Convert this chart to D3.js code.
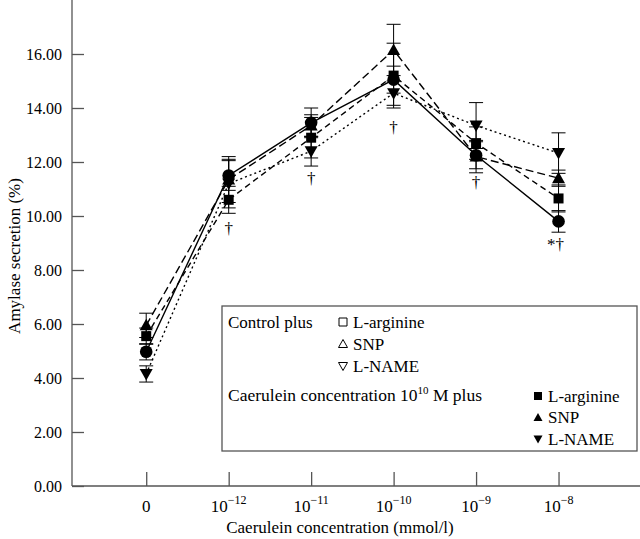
<!DOCTYPE html>
<html><head><meta charset="utf-8">
<script src="https://cdn.jsdelivr.net/npm/d3@7"></script>
<style>body{margin:0;background:#fff}svg{display:block}</style>
</head><body>
<svg id="c" width="640" height="539" font-family="'Liberation Serif', 'Times New Roman', 'DejaVu Serif', serif"></svg>
<script>
// ---- data ----
const categories = ["0", "10^-12", "10^-11", "10^-10", "10^-9", "10^-8"];
const tickExps = [null, "\u221212", "\u221211", "\u221210", "\u22129", "\u22128"];
const yTicks = [0, 2, 4, 6, 8, 10, 12, 14, 16];
const caeruleinValues = [4.97, 11.5, 13.45, 15.05, 12.25, 9.8];
const caeruleinErr    = [0.3, 0.55, 0.55, 0.5, 0.5, 0.4];
const lArginineValues = [5.55, 10.6, 12.9, 15.2, 12.7, 10.65];
const lArginineErr    = [0.3, 0.5, 0.75, 1.2, 0.6, 0.5];
const snpValues       = [5.95, 11.35, 13.35, 16.15, 12.2, 11.4];
const snpErr          = [0.45, 0.85, 0.4, 0.95, 0.6, 0.3];
const lNameValues     = [4.15, 11.2, 12.4, 14.55, 13.35, 12.33];
const lNameErr        = [0.3, 0.9, 0.55, 0.45, 0.85, 0.75];
const sigMarks = ["", "\u2020", "\u2020", "\u2020", "\u2020", "*\u2020"];
const sigLevels = [null, 9.55, 11.4, 13.3, 11.25, 8.95];

const series = [
  {name:"Caerulein", values:caeruleinValues, err:caeruleinErr, sym:"circle", dash:null},
  {name:"L-arginine", values:lArginineValues, err:lArginineErr, sym:"square", dash:"6,4"},
  {name:"SNP", values:snpValues, err:snpErr, sym:"up", dash:"8,4"},
  {name:"L-NAME", values:lNameValues, err:lNameErr, sym:"down", dash:"2,3"}
];

const svg = d3.select("#c");
const x = d3.scaleLinear().domain([-0.9, 6]).range([72, 641]);
const y = d3.scaleLinear().domain([0, 18]).range([486, 0]);

// axes
const yAxis = svg.append("g").attr("transform","translate(72,0)")
  .call(d3.axisRight(y).tickValues(yTicks).tickSize(12).tickFormat(""));
yAxis.attr("font-family",null);
yAxis.select(".domain").attr("d","M0,486V0");
yAxis.selectAll("line,path").attr("stroke","#555").attr("stroke-width",1.3);
svg.append("g").selectAll("text").data(yTicks).join("text")
  .attr("x",62).attr("y",d=>y(d)).attr("dy","0.35em").attr("text-anchor","end")
  .attr("font-size",16).attr("fill","#000").text(d=>d3.format(".2f")(d));

const xAxis = svg.append("g").attr("transform","translate(0,486)")
  .call(d3.axisTop(x).tickValues([0,1,2,3,4,5,6]).tickSize(14).tickFormat(""));
xAxis.attr("font-family",null);
xAxis.select(".domain").attr("d","M72,0H640");
xAxis.selectAll("line,path").attr("stroke","#555").attr("stroke-width",1.3);
const xl = svg.append("g").selectAll("text").data(categories).join("text")
  .attr("x",(d,i)=>x(i)).attr("y",512).attr("text-anchor","middle").attr("font-size",17).attr("fill","#000");
xl.each(function(d,i){
  const t = d3.select(this);
  if (tickExps[i]===null) { t.text("0"); return; }
  t.append("tspan").text("10");
  t.append("tspan").attr("dy",-8).attr("font-size",12).text(tickExps[i]);
});

svg.append("text").attr("x",340).attr("y",533).attr("text-anchor","middle").attr("font-size",17)
  .attr("fill","#000").text("Caerulein concentration (mmol/l)");
svg.append("text").attr("transform","translate(20,256) rotate(-90)").attr("text-anchor","middle")
  .attr("font-size",17).attr("fill","#000").text("Amylase secretion (%)");

// lines
const line = d3.line().x((d,i)=>x(i)).y(d=>y(d));
svg.append("g").selectAll("path").data(series).join("path")
  .attr("d",s=>line(s.values)).attr("fill","none").attr("stroke","#000").attr("stroke-width",1.4)
  .attr("stroke-dasharray",s=>s.dash);

// error bars
const eg = svg.append("g").attr("stroke","#000").attr("stroke-width",1);
series.forEach(s=>{
  s.values.forEach((v,i)=>{
    const e = s.err[i], cx = x(i);
    eg.append("line").attr("x1",cx).attr("x2",cx).attr("y1",y(v-e)).attr("y2",y(v+e));
    eg.append("line").attr("x1",cx-7).attr("x2",cx+7).attr("y1",y(v+e)).attr("y2",y(v+e));
    eg.append("line").attr("x1",cx-7).attr("x2",cx+7).attr("y1",y(v-e)).attr("y2",y(v-e));
  });
});

// markers (SNP drawn before circle so overlaps hide it like the reference)
const symPath = {
  circle: d3.symbol(d3.symbolCircle, 125)(),
  square: d3.symbol(d3.symbolSquare, 100)(),
  up: "M0,-6.5L6.5,5L-6.5,5Z",
  down: "M0,6.5L6.5,-5L-6.5,-5Z"
};
[series[2], series[3], series[1], series[0]].forEach(s=>{
  svg.append("g").selectAll("path").data(s.values).join("path")
    .attr("transform",(d,i)=>`translate(${x(i)},${y(d)})`).attr("d",symPath[s.sym]).attr("fill","#000");
});

// significance marks
svg.append("g").selectAll("text").data(sigMarks).join("text")
  .attr("x",(d,i)=>x(i)+(d.length>1?-3:0)).attr("y",(d,i)=>sigLevels[i]===null?0:y(sigLevels[i]))
  .attr("dy","0.35em").attr("text-anchor","middle").attr("font-size",17)
  .attr("fill","#000").text(d=>d);

// legend
const lg = svg.append("g");
lg.append("rect").attr("x",222).attr("y",306).attr("width",415).attr("height",145)
  .attr("fill","#fff").attr("stroke","#555").attr("stroke-width",1.3);
const legendOpen = [["square","L-arginine"],["up","SNP"],["down","L-NAME"]];
const openSym = {square:"M-4,-4H4V4H-4Z", up:"M0,-4.5L4.5,3.5L-4.5,3.5Z", down:"M0,4.5L4.5,-3.5L-4.5,-3.5Z"};
lg.append("text").attr("x",228).attr("y",322).attr("dy","0.35em").attr("font-size",17).attr("fill","#000").text("Control plus");
legendOpen.forEach((d,i)=>{
  const yy = 322 + i*22;
  lg.append("path").attr("transform",`translate(343,${yy})`).attr("d",openSym[d[0]]).attr("fill","none").attr("stroke","#000");
  lg.append("text").attr("x",353).attr("y",yy).attr("dy","0.35em").attr("font-size",17).attr("fill","#000").text(d[1]);
});
const ct = lg.append("text").attr("x",228).attr("y",395).attr("dy","0.35em").attr("font-size",17.5).attr("fill","#000");
ct.append("tspan").text("Caerulein concentration 10");
ct.append("tspan").attr("dy",-7).attr("font-size",11).text("10");
ct.append("tspan").attr("dy",7).text(" M plus");
legendOpen.forEach((d,i)=>{
  const yy = 396 + i*21.5;
  lg.append("path").attr("transform",`translate(538,${yy})`).attr("d",openSym[d[0]]).attr("fill","#000");
  lg.append("text").attr("x",548).attr("y",yy).attr("dy","0.35em").attr("font-size",17).attr("fill","#000").text(d[1]);
});
</script>
</body></html>
